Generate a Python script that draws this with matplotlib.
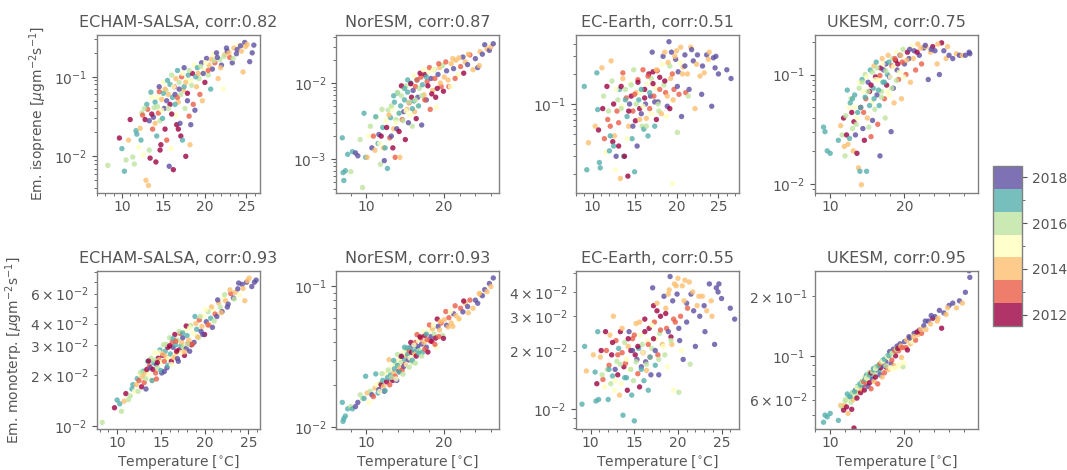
import numpy as np
import matplotlib
matplotlib.use("Agg")
import matplotlib.pyplot as plt
from matplotlib.colors import BoundaryNorm
from matplotlib.ticker import MultipleLocator

# valores diarios por modelo: temperatura, año, emisión de isopreno y de monoterpenos
echam_temp = [8.3, 9.7, 10.0, 10.3, 10.5, 10.8, 11.0, 11.3, 11.5, 11.7, 11.8, 12.0,
              12.2, 12.3, 12.4, 12.5, 12.6, 12.8, 12.9, 13.0, 13.1, 13.2, 13.3, 13.4, 13.5, 13.6, 13.7, 13.8, 13.9, 14.0,
              14.1, 14.2, 14.3, 14.4, 14.5, 14.6, 14.7, 14.8, 14.9, 15.0, 15.1, 15.2, 15.3, 15.4, 15.5, 15.6, 15.7, 15.8, 15.9, 16.0, 16.1, 16.2,
              16.3, 16.4, 16.5, 16.6, 16.7, 16.8, 16.9, 17.0, 17.1, 17.2, 17.3, 17.4, 17.5, 17.6, 17.7, 17.8, 17.9, 18.0, 18.1, 18.2, 18.3, 18.4,
              18.5, 18.7, 18.8, 19.0, 19.1, 19.3, 19.4, 19.6, 19.7, 19.9, 20.0, 20.2, 20.4, 20.5, 20.7, 20.9, 21.0, 21.2,
              21.4, 21.6, 21.8, 22.0, 22.2, 22.4, 22.7, 23.0, 23.3, 23.5, 23.8, 24.0, 24.3, 24.6, 24.8, 25.1, 25.4, 25.7, 25.9,
              12.7, 13.3, 13.6, 14.0, 14.3, 14.5, 14.8, 15.0, 15.2, 15.4, 15.6, 15.8, 16.0, 16.2, 16.4, 16.5, 16.7, 16.9, 17.1, 17.3,
              17.5, 17.7, 17.9, 18.1, 18.3, 18.6, 18.9, 19.2, 19.5, 19.8, 20.1, 20.4, 20.8, 21.1, 21.5, 21.9, 22.3, 22.6, 22.9, 23.4,
              23.9, 24.4, 24.9, 14.6, 16.8]
echam_year = [2016, 2012, 2017, 2017, 2016, 2014, 2012, 2016, 2016, 2017, 2017, 2015,
              2014, 2017, 2016, 2013, 2015, 2012, 2014, 2017, 2013, 2014, 2016, 2012, 2017, 2015, 2013, 2018, 2016, 2014,
              2012, 2017, 2015, 2013, 2018, 2016, 2012, 2014, 2017, 2015, 2018, 2012, 2016, 2013, 2017, 2014, 2018, 2012, 2015, 2016, 2017, 2012,
              2013, 2018, 2015, 2012, 2017, 2014, 2016, 2018, 2012, 2013, 2017, 2014, 2018, 2016, 2012, 2015, 2018, 2017, 2013, 2014, 2018, 2016,
              2012, 2015, 2018, 2014, 2017, 2016, 2013, 2018, 2014, 2015, 2012, 2018, 2016, 2014, 2017, 2018, 2015, 2013,
              2018, 2014, 2016, 2018, 2015, 2014, 2018, 2013, 2018, 2014, 2018, 2015, 2018, 2014, 2018, 2014, 2018, 2018, 2018,
              2016, 2018, 2012, 2017, 2016, 2013, 2015, 2017, 2014, 2018, 2016, 2017, 2012, 2015, 2017, 2014, 2013, 2018, 2016, 2015,
              2017, 2014, 2012, 2016, 2015, 2013, 2017, 2014, 2016, 2018, 2015, 2013, 2014, 2016, 2018, 2014, 2016, 2018, 2014, 2016,
              2018, 2014, 2014, 2012, 2012]
echam_iso = [0.0077, 0.017, 0.0125, 0.0065, 0.009, 0.016, 0.029, 0.0098, 0.008, 0.021, 0.019, 0.013,
             0.0225, 0.016, 0.035, 0.033, 0.0105, 0.029, 0.005, 0.045, 0.039, 0.0043, 0.012, 0.0095, 0.064, 0.055, 0.022, 0.031, 0.041, 0.026,
             0.0085, 0.018, 0.055, 0.035, 0.075, 0.028, 0.014, 0.052, 0.030, 0.085, 0.040, 0.022, 0.068, 0.016, 0.090, 0.060, 0.0075, 0.045, 0.0125, 0.105, 0.055, 0.0068,
             0.075, 0.060, 0.033, 0.025, 0.120, 0.048, 0.085, 0.026, 0.018, 0.100, 0.016, 0.068, 0.130, 0.040, 0.010, 0.092, 0.050, 0.105, 0.032, 0.014, 0.025, 0.078,
             0.110, 0.140, 0.038, 0.075, 0.130, 0.095, 0.060, 0.150, 0.050, 0.120, 0.085, 0.170, 0.105, 0.140, 0.070, 0.125, 0.190, 0.150,
             0.200, 0.095, 0.165, 0.140, 0.070, 0.190, 0.210, 0.175, 0.150, 0.230, 0.195, 0.250, 0.245, 0.115, 0.270, 0.255, 0.155, 0.200, 0.250,
             0.040, 0.028, 0.034, 0.048, 0.042, 0.065, 0.038, 0.062, 0.070, 0.050, 0.040, 0.080, 0.034, 0.075, 0.045, 0.095, 0.055, 0.070, 0.060, 0.110,
             0.075, 0.085, 0.062, 0.120, 0.090, 0.045, 0.100, 0.110, 0.135, 0.110, 0.150, 0.120, 0.165, 0.160, 0.175, 0.130, 0.180, 0.230, 0.200, 0.170,
             0.220, 0.210, 0.240, 0.012, 0.022]
echam_mono = [0.0105, 0.0128, 0.0142, 0.0135, 0.0122, 0.0140, 0.0155, 0.0143, 0.0150, 0.0165, 0.0175, 0.0160,
              0.0175, 0.0190, 0.0160, 0.0185, 0.0200, 0.0170, 0.0195, 0.0210, 0.0180, 0.0205, 0.0190, 0.0215, 0.0240, 0.0200, 0.0225, 0.0220, 0.0250, 0.0185,
              0.0215, 0.0235, 0.0270, 0.0205, 0.0230, 0.0220, 0.0250, 0.0245, 0.0280, 0.0235, 0.0205, 0.0260, 0.0300, 0.0240, 0.0275, 0.0255, 0.0220, 0.0290, 0.0250, 0.0330, 0.0265, 0.0240,
              0.0310, 0.0290, 0.0255, 0.0345, 0.0300, 0.0270, 0.0320, 0.0240, 0.0280, 0.0350, 0.0295, 0.0310, 0.0330, 0.0290, 0.0260, 0.0365, 0.0285, 0.0340, 0.0305, 0.0320, 0.0275, 0.0390,
              0.0300, 0.0350, 0.0310, 0.0400, 0.0370, 0.0330, 0.0420, 0.0360, 0.0385, 0.0440, 0.0345, 0.0410, 0.0470, 0.0395, 0.0430, 0.0380, 0.0480, 0.0455,
              0.0440, 0.0530, 0.0500, 0.0470, 0.0560, 0.0545, 0.0520, 0.0600, 0.0565, 0.0610, 0.0640, 0.0590, 0.0680, 0.0545, 0.0700, 0.0740, 0.0660, 0.0700, 0.0720,
              0.0207, 0.0165, 0.0241, 0.0185, 0.0243, 0.0189, 0.0271, 0.0212, 0.0265, 0.0209, 0.0302, 0.0227, 0.0296, 0.0230, 0.0326, 0.0252, 0.0315, 0.0249, 0.0360, 0.0270,
              0.0352, 0.0273, 0.0387, 0.0302, 0.0377, 0.0302, 0.0440, 0.0334, 0.0440, 0.0345, 0.0483, 0.0392, 0.0501, 0.0414, 0.0551, 0.0463, 0.0591, 0.0500, 0.0631, 0.0558,
              0.0692, 0.0643, 0.0715, 0.0236, 0.0275]

noresm_temp = [6.9, 7.0, 7.1, 7.3, 7.6, 8.0, 8.2, 8.6, 8.9, 9.2, 9.5, 9.7, 9.9, 10.1, 10.3, 10.5, 10.7, 10.9, 11.1, 11.3, 11.5, 11.6, 11.8, 11.9,
               12.1, 12.2, 12.3, 12.5, 12.6, 12.7, 12.8, 13.0, 13.1, 13.2, 13.3, 13.4, 13.5, 13.6, 13.7, 13.8, 13.9, 14.0, 14.1, 14.2, 14.3, 14.4, 14.5, 14.6, 14.7, 14.8, 14.9,
               15.0, 15.1, 15.2, 15.3, 15.4, 15.5, 15.6, 15.7, 15.8, 15.9, 16.0, 16.1, 16.2, 16.3, 16.4, 16.5, 16.6, 16.7, 16.8, 17.0, 17.1, 17.2, 17.4, 17.5, 17.7, 17.8,
               18.0, 18.2, 18.3, 18.5, 18.7, 18.9, 19.0, 19.2, 19.4, 19.6, 19.8, 20.0, 20.3, 20.6, 20.9, 21.2, 21.5, 21.8, 22.1, 22.4, 22.7, 23.0, 23.3, 23.7, 24.0, 24.3, 24.6, 24.9, 25.2, 25.5, 25.8, 26.0, 26.3,
               11.2, 11.7, 12.0, 12.4, 12.9, 13.2, 13.5, 13.8, 14.0, 14.2, 14.5, 14.7, 14.9, 15.1, 15.3, 15.5, 15.7, 15.9, 16.1, 16.3,
               16.5, 16.7, 16.9, 17.1, 17.3, 17.5, 17.7, 17.9, 18.1, 18.4, 18.6, 18.8, 19.1, 19.3, 19.5, 19.9, 20.2, 20.5, 20.8, 21.1,
               21.4, 21.9, 22.5, 23.1, 24.5]
noresm_year = [2017, 2017, 2017, 2017, 2017, 2016, 2017, 2018, 2018, 2016, 2016, 2017, 2017, 2014, 2015, 2016, 2018, 2013, 2014, 2015, 2017, 2018, 2016, 2012,
               2017, 2014, 2018, 2015, 2012, 2017, 2016, 2013, 2017, 2018, 2015, 2012, 2014, 2017, 2013, 2016, 2018, 2017, 2015, 2012, 2014, 2017, 2016, 2013, 2015, 2018, 2017,
               2012, 2016, 2014, 2017, 2018, 2013, 2015, 2017, 2012, 2016, 2018, 2017, 2014, 2013, 2012, 2017, 2018, 2015, 2016, 2013, 2018, 2017, 2014, 2012, 2018, 2013,
               2015, 2013, 2018, 2014, 2016, 2012, 2015, 2018, 2014, 2013, 2016, 2014, 2018, 2013, 2014, 2018, 2014, 2015, 2013, 2018, 2014, 2018, 2013, 2014, 2018, 2018, 2014, 2018, 2018, 2014, 2018, 2014, 2018,
               2017, 2015, 2016, 2017, 2014, 2016, 2017, 2015, 2016, 2017, 2012, 2016, 2017, 2015, 2017, 2016, 2012, 2017, 2015, 2016,
               2013, 2017, 2012, 2016, 2015, 2013, 2017, 2012, 2013, 2012, 2015, 2013, 2012, 2013, 2014, 2012, 2013, 2014, 2015, 2014,
               2013, 2014, 2012, 2014, 2014]
noresm_iso = [0.0019, 0.00066, 0.00052, 0.0007, 0.00115, 0.00068, 0.00125, 0.0012, 0.0011, 0.0018, 0.00042, 0.004, 0.00105, 0.00105, 0.002, 0.0027, 0.0014, 0.002, 0.0013, 0.0035, 0.0016, 0.0021, 0.00085, 0.002,
              0.0026, 0.0014, 0.00095, 0.0032, 0.0026, 0.00075, 0.0044, 0.0019, 0.0035, 0.002, 0.0046, 0.0014, 0.0025, 0.0056, 0.00105, 0.0033, 0.0025, 0.0074, 0.004, 0.0023, 0.00105, 0.005, 0.0068, 0.0033, 0.0086, 0.0042, 0.006,
              0.0018, 0.0092, 0.0045, 0.0076, 0.003, 0.0055, 0.0038, 0.01, 0.0065, 0.0027, 0.008, 0.0058, 0.0042, 0.009, 0.0034, 0.011, 0.0065, 0.005, 0.0085, 0.012, 0.0028, 0.0095, 0.007, 0.013, 0.006, 0.0105,
              0.014, 0.0045, 0.0115, 0.008, 0.015, 0.0065, 0.0048, 0.013, 0.016, 0.009, 0.017, 0.012, 0.0145, 0.009, 0.018, 0.0155, 0.02, 0.013, 0.0165, 0.022, 0.019, 0.0175, 0.0235, 0.015, 0.021, 0.016, 0.026, 0.024, 0.032, 0.028, 0.027, 0.03, 0.033,
              0.0036, 0.0016, 0.0045, 0.0014, 0.0038, 0.0050, 0.0068, 0.0030, 0.0075, 0.0040, 0.0092, 0.0032, 0.0085, 0.0043, 0.0110, 0.0056, 0.0098, 0.0046, 0.0125, 0.0060,
              0.0110, 0.0050, 0.0135, 0.0068, 0.0150, 0.0060, 0.0120, 0.0092, 0.0160, 0.0072, 0.0150, 0.0115, 0.0085, 0.0180, 0.0100, 0.0078, 0.0190, 0.0110, 0.0090, 0.0210,
              0.0115, 0.0215, 0.0135, 0.0240, 0.0170]
noresm_mono = [0.015, 0.011, 0.0115, 0.012, 0.0135, 0.014, 0.0135, 0.014, 0.015, 0.017, 0.016, 0.016, 0.023, 0.0175, 0.015, 0.018, 0.017, 0.0165, 0.019, 0.02, 0.0175, 0.0185, 0.0205, 0.02,
               0.0215, 0.0195, 0.018, 0.024, 0.021, 0.0225, 0.0255, 0.02, 0.0235, 0.022, 0.027, 0.0215, 0.0245, 0.026, 0.023, 0.0285, 0.0215, 0.0275, 0.03, 0.025, 0.0265, 0.032, 0.029, 0.0255, 0.034, 0.027, 0.0305,
               0.028, 0.036, 0.032, 0.033, 0.03, 0.035, 0.031, 0.037, 0.034, 0.029, 0.038, 0.0345, 0.033, 0.04, 0.032, 0.036, 0.0375, 0.041, 0.035, 0.043, 0.039, 0.034, 0.04, 0.045, 0.037, 0.042,
               0.048, 0.041, 0.044, 0.05, 0.046, 0.043, 0.037, 0.052, 0.049, 0.055, 0.045, 0.058, 0.053, 0.06, 0.055, 0.064, 0.062, 0.058, 0.07, 0.066, 0.076, 0.072, 0.08, 0.07, 0.08, 0.076, 0.088, 0.086, 0.095, 0.092, 0.105, 0.1, 0.115,
               0.0239, 0.0179, 0.0240, 0.0182, 0.0302, 0.0225, 0.0298, 0.0220, 0.0329, 0.0246, 0.0319, 0.0238, 0.0370, 0.0279, 0.0366, 0.0267, 0.0400, 0.0299, 0.0383, 0.0285,
               0.0455, 0.0336, 0.0438, 0.0320, 0.0479, 0.0359, 0.0459, 0.0342, 0.0533, 0.0407, 0.0531, 0.0388, 0.0587, 0.0440, 0.0563, 0.0428, 0.0664, 0.0515, 0.0663, 0.0521,
               0.0729, 0.0590, 0.0788, 0.0650, 0.0893]

ecearth_temp = [9.0, 9.3, 9.5, 10.3, 10.5, 10.6, 10.7, 10.8, 10.9, 11.1, 11.2, 11.4, 11.6, 11.7, 11.9, 12.0, 12.1, 12.2, 12.3, 12.4, 12.5, 12.6, 12.7, 12.8, 12.9,
                13.0, 13.1, 13.2, 13.3, 13.4, 13.5, 13.6, 13.7, 13.8, 13.9, 14.0, 14.1, 14.2, 14.3, 14.4, 14.5, 14.6, 14.7, 14.8, 14.9,
                15.0, 15.1, 15.2, 15.3, 15.4, 15.5, 15.6, 15.7, 15.8, 15.9, 16.0, 16.1, 16.2, 16.3, 16.4, 16.5, 16.6, 16.7, 16.8, 16.9,
                17.0, 17.1, 17.2, 17.3, 17.4, 17.5, 17.6, 17.7, 17.8, 17.9, 18.0, 18.2, 18.4, 18.5, 18.6, 18.7, 18.8, 18.9,
                19.0, 19.1, 19.2, 19.3, 19.4, 19.5, 19.6, 19.7, 19.9, 20.0, 20.1, 20.2, 20.3, 20.5, 20.6, 20.8,
                21.0, 21.1, 21.3, 21.5, 21.7, 22.0, 22.2, 22.5, 22.8, 23.0, 23.3, 23.6, 23.9, 24.2, 24.4, 24.7, 25.0, 26.0, 26.5,
                11.3, 11.8, 12.1, 12.5, 12.8, 13.1, 13.4, 13.6, 13.9, 14.1, 14.3, 14.6, 14.8, 15.0, 15.2, 15.4, 15.6, 15.8, 16.0, 16.2,
                16.4, 16.6, 16.8, 17.0, 17.2, 17.4, 17.6, 17.8, 18.0, 18.3, 18.6, 18.9, 19.2, 19.5, 19.8, 20.1, 20.4, 20.7, 21.0, 21.4,
                21.8, 22.4, 23.1, 23.8, 24.6]
ecearth_year = [2017, 2017, 2014, 2014, 2017, 2017, 2012, 2017, 2017, 2014, 2012, 2013, 2015, 2012, 2016, 2017, 2013, 2014, 2016, 2012, 2017, 2014, 2015, 2018, 2013,
                2016, 2012, 2017, 2014, 2012, 2015, 2013, 2017, 2012, 2016, 2013, 2017, 2012, 2014, 2018, 2015, 2012, 2017, 2013, 2016,
                2017, 2012, 2014, 2018, 2013, 2017, 2012, 2015, 2018, 2016, 2013, 2017, 2012, 2018, 2014, 2015, 2017, 2012, 2013, 2018,
                2016, 2018, 2012, 2013, 2017, 2015, 2012, 2013, 2018, 2016, 2012, 2014, 2018, 2016, 2014, 2013, 2015, 2018,
                2014, 2018, 2012, 2014, 2018, 2015, 2014, 2013, 2018, 2014, 2016, 2018, 2013, 2014, 2018, 2014,
                2018, 2013, 2014, 2018, 2014, 2018, 2014, 2018, 2014, 2018, 2014, 2018, 2014, 2018, 2018, 2018, 2018, 2018, 2018,
                2016, 2013, 2017, 2012, 2015, 2013, 2016, 2014, 2017, 2015, 2012, 2016, 2018, 2013, 2016, 2012, 2014, 2017, 2015, 2012,
                2016, 2013, 2017, 2015, 2012, 2018, 2014, 2016, 2013, 2015, 2012, 2014, 2016, 2013, 2014, 2018, 2015, 2014, 2018, 2016,
                2018, 2014, 2018, 2014, 2018]
ecearth_iso = [0.150, 0.022, 0.041, 0.060, 0.205, 0.088, 0.055, 0.026, 0.023, 0.230, 0.090, 0.045, 0.033, 0.150, 0.085, 0.034, 0.060, 0.270, 0.170, 0.042, 0.038, 0.048, 0.022, 0.030, 0.085,
               0.110, 0.038, 0.140, 0.018, 0.150, 0.095, 0.205, 0.030, 0.030, 0.140, 0.115, 0.075, 0.019, 0.060, 0.100, 0.160, 0.120, 0.045, 0.085, 0.220,
               0.021, 0.068, 0.130, 0.038, 0.175, 0.110, 0.090, 0.130, 0.080, 0.060, 0.220, 0.056, 0.140, 0.100, 0.072, 0.160, 0.048, 0.200, 0.090, 0.120,
               0.180, 0.330, 0.210, 0.120, 0.060, 0.145, 0.070, 0.215, 0.105, 0.085, 0.185, 0.080, 0.300, 0.155, 0.330, 0.130, 0.075, 0.095,
               0.260, 0.420, 0.090, 0.180, 0.330, 0.016, 0.110, 0.140, 0.280, 0.340, 0.052, 0.210, 0.125, 0.370, 0.075, 0.235,
               0.310, 0.130, 0.200, 0.140, 0.370, 0.270, 0.090, 0.310, 0.190, 0.125, 0.205, 0.310, 0.330, 0.095, 0.290, 0.300, 0.200, 0.220, 0.180,
               0.120, 0.070, 0.048, 0.100, 0.140, 0.065, 0.090, 0.180, 0.110, 0.045, 0.085, 0.155, 0.060, 0.125, 0.100, 0.165, 0.070, 0.140, 0.095, 0.115,
               0.060, 0.190, 0.130, 0.080, 0.160, 0.105, 0.220, 0.100, 0.140, 0.250, 0.170, 0.120, 0.240, 0.200, 0.300, 0.150, 0.260, 0.200, 0.240, 0.120,
               0.350, 0.250, 0.240, 0.280, 0.230]
ecearth_mono = [0.0106, 0.0210, 0.0157, 0.0190, 0.0155, 0.0110, 0.0135, 0.0250, 0.0112, 0.0185, 0.0200, 0.0142, 0.0130, 0.0250, 0.0160, 0.0112, 0.0168, 0.0240, 0.0135, 0.0190, 0.0148, 0.0300, 0.0125, 0.0160, 0.0225,
                0.0176, 0.0150, 0.0205, 0.0118, 0.0250, 0.0135, 0.0195, 0.0093, 0.0165, 0.0220, 0.0172, 0.0145, 0.0125, 0.0210, 0.0250, 0.0160, 0.0200, 0.0118, 0.0230, 0.0140,
                0.0087, 0.0190, 0.0275, 0.0180, 0.0152, 0.0205, 0.0130, 0.0240, 0.0165, 0.0215, 0.0195, 0.0140, 0.0290, 0.0175, 0.0158, 0.0225, 0.0125, 0.0260, 0.0185, 0.0150,
                0.0205, 0.0420, 0.0340, 0.0280, 0.0168, 0.0230, 0.0320, 0.0190, 0.0150, 0.0245, 0.0300, 0.0215, 0.0380, 0.0190, 0.0330, 0.0260, 0.0165, 0.0250,
                0.0410, 0.0480, 0.0235, 0.0215, 0.0360, 0.0125, 0.0440, 0.0280, 0.0390, 0.0470, 0.0122, 0.0225, 0.0300, 0.0430, 0.0180, 0.0460,
                0.0350, 0.0330, 0.0450, 0.0390, 0.0400, 0.0210, 0.0340, 0.0300, 0.0380, 0.0340, 0.0320, 0.0440, 0.0300, 0.0215, 0.0420, 0.0440, 0.0370, 0.0330, 0.0290,
                0.0150, 0.0200, 0.0160, 0.0220, 0.0140, 0.0190, 0.0170, 0.0260, 0.0145, 0.0180, 0.0230, 0.0160, 0.0200, 0.0240, 0.0175, 0.0210, 0.0280, 0.0160, 0.0195, 0.0250,
                0.0170, 0.0215, 0.0185, 0.0270, 0.0230, 0.0200, 0.0350, 0.0180, 0.0255, 0.0210, 0.0310, 0.0390, 0.0225, 0.0290, 0.0430, 0.0260, 0.0200, 0.0360, 0.0280, 0.0170,
                0.0320, 0.0380, 0.0250, 0.0360, 0.0400]

ukesm_temp = [9.1, 9.3, 9.6, 10.0, 11.1, 11.4, 11.6, 11.8, 11.9, 12.0, 12.2, 12.3, 12.4, 12.5, 12.6, 12.8, 12.9,
              13.0, 13.1, 13.2, 13.3, 13.4, 13.5, 13.6, 13.7, 13.8, 13.9, 14.0, 14.1, 14.2, 14.3, 14.4, 14.5, 14.6, 14.7, 14.8, 14.9,
              15.0, 15.1, 15.2, 15.3, 15.4, 15.5, 15.6, 15.7, 15.8, 15.9, 16.0, 16.1, 16.2, 16.3, 16.4, 16.5, 16.6, 16.7, 16.8, 16.9,
              17.0, 17.1, 17.2, 17.3, 17.4, 17.5, 17.6, 17.7, 17.8, 17.9, 18.0, 18.2, 18.3, 18.4, 18.5, 18.6, 18.8, 18.9,
              19.0, 19.2, 19.4, 19.6, 19.8, 20.0, 20.2, 20.4, 20.6, 20.8, 21.0, 21.3, 21.5, 21.8, 22.0, 22.3, 22.6, 22.9,
              23.2, 23.5, 23.8, 24.1, 24.4, 24.7, 25.0, 25.3, 25.6, 26.0, 26.5, 27.0, 27.4, 27.8, 28.2, 28.7, 28.8,
              12.1, 12.7, 13.0, 13.3, 13.6, 13.9, 14.1, 14.3, 14.5, 14.7, 14.9, 15.1, 15.3, 15.5, 15.7, 15.9, 16.1, 16.3, 16.5, 16.7,
              16.9, 17.1, 17.3, 17.5, 17.7, 17.9, 18.1, 18.3, 18.5, 18.7, 18.9, 19.1, 19.3, 19.5, 19.7, 19.9, 20.3, 20.7, 21.2, 21.7,
              22.2, 22.8, 23.6, 24.5, 25.8]
ukesm_year = [2017, 2017, 2017, 2017, 2017, 2014, 2016, 2012, 2014, 2016, 2012, 2017, 2014, 2015, 2017, 2016, 2012,
              2017, 2014, 2012, 2015, 2018, 2016, 2012, 2017, 2014, 2015, 2017, 2012, 2014, 2017, 2018, 2015, 2012, 2016, 2013, 2017,
              2014, 2018, 2016, 2012, 2017, 2013, 2015, 2018, 2017, 2014, 2016, 2012, 2017, 2018, 2013, 2015, 2017, 2018, 2012, 2016,
              2014, 2017, 2018, 2013, 2016, 2018, 2012, 2017, 2014, 2015, 2018, 2018, 2013, 2016, 2018, 2014, 2012, 2015,
              2018, 2013, 2018, 2014, 2016, 2018, 2013, 2012, 2018, 2014, 2015, 2018, 2013, 2014, 2018, 2013, 2018, 2014,
              2018, 2014, 2012, 2018, 2014, 2018, 2012, 2018, 2014, 2018, 2018, 2014, 2018, 2014, 2018, 2018, 2018,
              2016, 2017, 2016, 2017, 2015, 2016, 2017, 2016, 2013, 2017, 2015, 2016, 2017, 2012, 2016, 2017, 2015, 2016, 2017, 2013,
              2016, 2015, 2017, 2016, 2015, 2017, 2015, 2016, 2015, 2013, 2016, 2012, 2015, 2014, 2013, 2015, 2014, 2018, 2014, 2012,
              2014, 2018, 2018, 2014, 2014]
ukesm_iso = [0.033, 0.030, 0.020, 0.019, 0.025, 0.034, 0.028, 0.040, 0.022, 0.018, 0.028, 0.072, 0.023, 0.050, 0.026, 0.060, 0.045,
             0.060, 0.020, 0.037, 0.050, 0.028, 0.035, 0.019, 0.045, 0.014, 0.085, 0.013, 0.050, 0.0098, 0.090, 0.032, 0.070, 0.025, 0.100, 0.060, 0.013,
             0.040, 0.085, 0.033, 0.070, 0.110, 0.027, 0.055, 0.038, 0.075, 0.120, 0.048, 0.095, 0.130, 0.065, 0.035, 0.090, 0.052, 0.018, 0.115, 0.070,
             0.140, 0.085, 0.110, 0.060, 0.040, 0.125, 0.080, 0.100, 0.150, 0.065, 0.095, 0.030, 0.120, 0.140, 0.075, 0.055, 0.135, 0.160,
             0.110, 0.090, 0.150, 0.060, 0.170, 0.125, 0.100, 0.160, 0.140, 0.085, 0.180, 0.165, 0.110, 0.190, 0.150, 0.125, 0.175, 0.180,
             0.090, 0.160, 0.180, 0.165, 0.125, 0.100, 0.195, 0.165, 0.140, 0.150, 0.140, 0.155, 0.150, 0.150, 0.150, 0.160, 0.155,
             0.042, 0.055, 0.032, 0.065, 0.040, 0.075, 0.050, 0.085, 0.045, 0.062, 0.095, 0.070, 0.052, 0.080, 0.105, 0.060, 0.090, 0.115, 0.072, 0.098,
             0.062, 0.125, 0.085, 0.108, 0.070, 0.130, 0.095, 0.075, 0.118, 0.140, 0.088, 0.125, 0.105, 0.150, 0.130, 0.095, 0.135, 0.170, 0.140, 0.160,
             0.175, 0.185, 0.170, 0.190, 0.180]
ukesm_mono = [0.0460, 0.0500, 0.0490, 0.0510, 0.0470, 0.0560, 0.0550, 0.0530, 0.0560, 0.0590, 0.0550, 0.0640, 0.0510, 0.0600, 0.0620, 0.0580, 0.0535,
              0.0650, 0.0600, 0.0430, 0.0640, 0.0670, 0.0630, 0.0610, 0.0700, 0.0660, 0.0690, 0.0720, 0.0650, 0.0680, 0.0740, 0.0710, 0.0760, 0.0670, 0.0780, 0.0720, 0.0800,
              0.0750, 0.0700, 0.0820, 0.0730, 0.0790, 0.0680, 0.0830, 0.0760, 0.0860, 0.0740, 0.0810, 0.0780, 0.0880, 0.0850, 0.0720, 0.0900, 0.0840, 0.0800, 0.0870, 0.0920,
              0.0780, 0.0950, 0.0890, 0.0820, 0.0960, 0.0930, 0.0870, 0.1000, 0.0850, 0.0980, 0.1050, 0.0910, 0.0950, 0.1030, 0.1080, 0.0890, 0.1000, 0.0870,
              0.1120, 0.1060, 0.1150, 0.0980, 0.0880, 0.1180, 0.1100, 0.1070, 0.1250, 0.1150, 0.1180, 0.1300, 0.1200, 0.1280, 0.1350, 0.1300, 0.1420, 0.1360,
              0.1500, 0.1450, 0.1550, 0.1580, 0.1500, 0.1700, 0.1380, 0.1650, 0.1620, 0.1800, 0.1850, 0.1750, 0.1900, 0.1850, 0.2100, 0.2700, 0.2500,
              0.0600, 0.0620, 0.0650, 0.0660, 0.0690, 0.0700, 0.0710, 0.0730, 0.0740, 0.0760, 0.0770, 0.0790, 0.0800, 0.0820, 0.0830, 0.0850, 0.0860, 0.0880, 0.0890, 0.0910,
              0.0930, 0.0940, 0.0960, 0.0890, 0.0990, 0.1000, 0.0870, 0.1030, 0.0860, 0.1060, 0.1080, 0.1090, 0.0900, 0.1120, 0.1100, 0.0920, 0.1200, 0.1230, 0.1250, 0.1320,
              0.1360, 0.1500, 0.1600, 0.1550, 0.1750]

modelos = ["ECHAM-SALSA", "NorESM", "EC-Earth", "UKESM"]
corr_iso = [0.82, 0.87, 0.51, 0.75]
corr_mono = [0.93, 0.93, 0.55, 0.95]
anios = [2012, 2013, 2014, 2015, 2016, 2017, 2018]

temps = [echam_temp, noresm_temp, ecearth_temp, ukesm_temp]
years = [echam_year, noresm_year, ecearth_year, ukesm_year]
isos = [echam_iso, noresm_iso, ecearth_iso, ukesm_iso]
monos = [echam_mono, noresm_mono, ecearth_mono, ukesm_mono]

# límites de cada panel (fila 0: isopreno, fila 1: monoterpenos)
xlims = [[(7.0, 26.6), (6.15, 27.05), (8.0, 27.4), (8.0, 29.9)],
         [(7.7, 26.3), (6.15, 27.05), (8.3, 26.95), (8.0, 29.9)]]
ylims = [[(0.0035, 0.335), (0.00036, 0.043), (0.013, 0.49), (0.0083, 0.23)],
         [(0.0096, 0.081), (0.0097, 0.128), (0.0079, 0.051), (0.0425, 0.268)]]
paso_x = [5, 10, 5, 10]

gris = "#555555"
plt.rcParams.update({
    "font.family": "DejaVu Sans",
    "font.size": 10,
    "text.color": gris,
    "axes.labelcolor": gris,
    "axes.edgecolor": "#808080",
    "axes.linewidth": 1.0,
    "xtick.color": gris,
    "ytick.color": gris,
    "xtick.labelsize": 10,
    "ytick.labelsize": 10,
    "xtick.major.pad": 1.5,
})

cmap = plt.get_cmap("Spectral", len(anios))
norm = BoundaryNorm(np.arange(anios[0] - 0.5, anios[-1] + 1.0), cmap.N)

fig, axes = plt.subplots(2, 4, figsize=(10.67, 4.7), dpi=100)
fig.subplots_adjust(left=0.0909, right=0.9166, top=0.9255, bottom=0.0872,
                    wspace=0.472, hspace=0.50)

for j in range(4):
    for i, (valores, corr) in enumerate([(isos[j], corr_iso[j]), (monos[j], corr_mono[j])]):
        ax = axes[i, j]
        sc = ax.scatter(temps[j], valores, c=years[j], cmap=cmap, norm=norm,
                        s=15, alpha=0.8, linewidths=0)
        ax.set_yscale("log")
        ax.set_xlim(xlims[i][j])
        ax.set_ylim(ylims[i][j])
        ax.xaxis.set_major_locator(MultipleLocator(paso_x[j]))
        ax.xaxis.set_minor_locator(MultipleLocator(paso_x[j] / 5))
        ax.set_title(f"{modelos[j]}, corr:{corr:.2f}", fontsize=11.5, color=gris)
        if i == 1:
            ax.set_xlabel(r"Temperature [$^{\circ}$C]", labelpad=2)

axes[0, 0].set_ylabel(r"Em. isoprene [$\mu$gm$^{-2}$s$^{-1}$]")
axes[1, 0].set_ylabel(r"Em. monoterp. [$\mu$gm$^{-2}$s$^{-1}$]")

cax = fig.add_axes([0.9306, 0.3064, 0.0272, 0.3404])
cb = fig.colorbar(sc, cax=cax, ticks=anios)
cb.set_ticks(anios[::2], labels=[str(a) for a in anios[::2]])
cb.ax.set_yticks(anios[1::2], minor=True)
cb.outline.set_edgecolor("#808080")

fig.savefig("out.png", dpi=100)
